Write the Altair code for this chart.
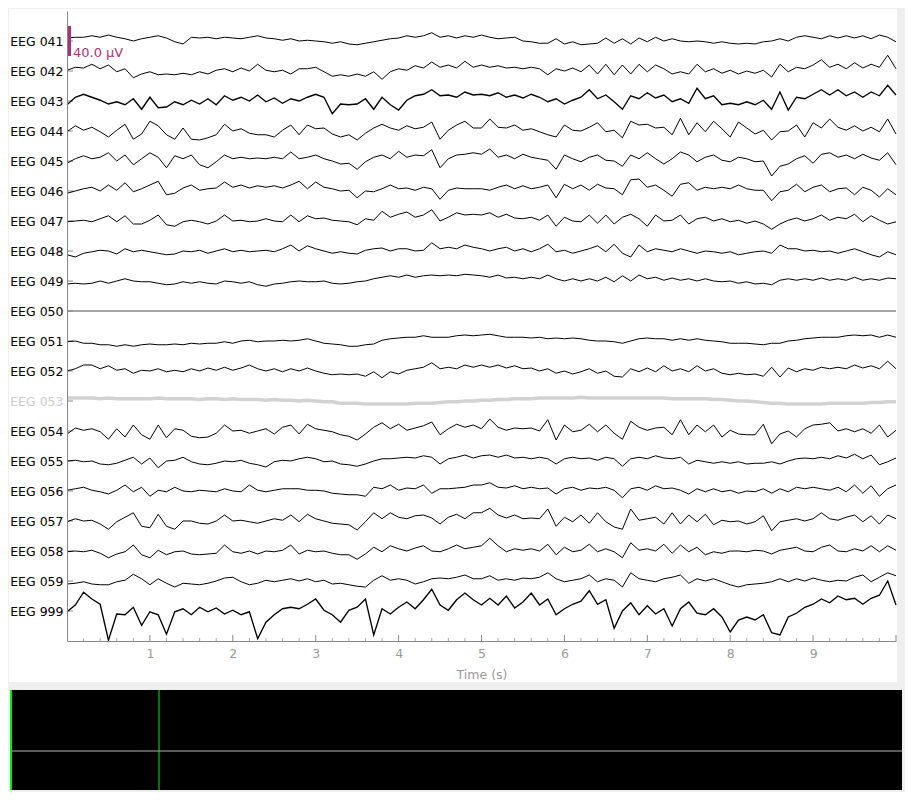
import altair as alt
import pandas as pd

# ---------------- data (values in µV, sampled every 0.1 s) ----------------
TIMES = [round(0.1 * i, 1) for i in range(101)]

CHANNELS = ["EEG 041", "EEG 042", "EEG 043", "EEG 044", "EEG 045", "EEG 046",
            "EEG 047", "EEG 048", "EEG 049", "EEG 050", "EEG 051", "EEG 052",
            "EEG 053", "EEG 054", "EEG 055", "EEG 056", "EEG 057", "EEG 058",
            "EEG 059", "EEG 999"]
BAD_CHANNELS = ["EEG 053"]
FLAT_CHANNELS = ["EEG 050"]
HEAVY_CHANNELS = ["EEG 043", "EEG 999"]
SCALEBAR_UV = 40.0  # one channel spacing

EEG041 = [4, 5, 5, 7, 5, 8, 5, 3, 0, 3,
          5, 7, 4, -1, -4, 5, 4, 5, 3, 5,
          4, 3, 5, 7, 4, 3, 1, 3, 0, 1,
          0, -1, -3, -1, -4, -5, -3, -1, 1, 3,
          4, 7, 5, 7, 11, 5, 7, 4, 7, 5,
          8, 5, 3, 4, 5, 0, -1, -3, -3, 3,
          -4, -1, -5, -4, -3, 4, -3, 3, -4, 4,
          -1, 5, 0, 3, 0, -1, 0, -1, -3, -1,
          -3, -4, -3, -4, -1, 0, 3, 0, 5, 7,
          5, 3, 7, 4, 7, 4, 7, 3, 8, 5,
          -1]
EEG042 = [1, 5, 4, 9, 3, 8, -1, 3, -9, -4,
          -1, -5, -4, -5, -3, -5, -1, -4, 1, 3,
          -1, 4, 0, 9, 1, -1, 1, -4, 3, 3,
          5, -1, -7, -5, -7, -4, -7, -1, -11, -1,
          3, 1, 7, 4, 12, 5, 8, 4, 13, 5,
          8, 5, 7, 4, 5, 3, 5, 3, -5, 3,
          0, 4, -1, 8, -4, 9, -5, 8, -4, 9,
          -1, 8, 3, -4, -1, -4, 9, -1, 3, -3,
          1, -4, 0, -3, 1, -8, 9, -1, 5, 3,
          8, 15, 5, 9, 3, 11, 4, 9, 5, 21,
          3]
EEG043 = [-5, 5, 9, 5, 1, -4, -1, -5, 3, -11,
          5, -9, -8, -1, -5, 1, -4, 3, -5, 7,
          1, 5, 0, 8, -1, 4, -3, 3, 0, 5,
          9, 5, -17, -4, -5, -4, 3, -11, 5, -5,
          -12, 1, 7, 9, 15, 7, 8, 5, 12, 8,
          9, 7, 11, 5, 8, 4, 9, 5, -1, 3,
          -4, 1, 5, 15, 3, 8, -1, -11, 7, 3,
          11, 4, 8, -1, 3, -3, 17, 3, 7, -5,
          -3, -5, -1, -5, 1, -11, 12, -12, 5, 3,
          9, 15, 8, 15, 7, 12, 5, 12, 7, 21,
          8]
EEG044 = [-1, 7, 1, 5, -1, -8, 1, 9, -11, -4,
          13, 7, -5, -11, 4, -11, -12, -9, -5, 9,
          0, 3, -3, -5, -5, -8, 1, 8, -5, 8,
          3, 4, -4, -8, -5, -12, -3, 4, 9, 4,
          1, 7, 3, 5, 12, -11, 1, 8, 13, 4,
          4, 16, 5, 4, 8, 1, 3, -1, -5, -8,
          8, 1, 0, 5, 11, -1, 1, -9, 13, 8,
          9, 4, 5, -5, 17, -5, 11, -1, 13, 3,
          -8, 12, 4, -4, 1, -12, -1, 0, 8, -8,
          11, 4, 16, 5, 1, 7, 0, 5, -1, 16,
          -4]
EEG045 = [-3, 3, 7, 3, 5, 11, 0, 8, -5, 3,
          11, 5, -9, 7, 3, 8, -5, -9, -1, 8,
          3, 5, 3, 4, 3, 5, 3, 12, 3, 5,
          8, 3, 0, -4, -3, -11, -1, 5, 8, 3,
          13, 5, 8, 7, 15, -9, 3, 8, 9, 11,
          9, 16, 5, 8, 3, 9, 5, 3, 1, -11,
          8, 3, -1, 5, 8, 1, 0, -7, 8, 3,
          11, 3, -4, 3, 12, 8, -1, 5, 8, 1,
          -1, 5, 3, -1, 0, -20, -7, -4, 3, 7,
          -3, 9, 11, 5, 8, 3, 9, 4, 1, 11,
          -5]
EEG046 = [-3, 0, 3, 5, 0, 8, 1, 11, -1, 3,
          8, 13, -5, -3, 4, 8, 1, 3, 4, 12,
          5, 8, 4, 7, 5, 7, 4, 8, 13, 3,
          12, 5, 3, 0, 1, -9, 0, -1, 3, 8,
          3, 4, 1, 5, 3, -11, 1, 4, 3, 3,
          3, 1, 5, 8, 3, 7, 3, 5, 8, -9,
          9, 3, 8, 1, 9, 4, 3, -5, 15, 16,
          5, 8, 1, -7, 9, 11, 1, 5, 3, 5,
          3, 8, 3, 1, 1, -13, -1, 1, 9, -1,
          5, 8, -1, 3, 4, -5, 5, 1, -8, 3,
          -5]
EEG047 = [-1, 0, 1, -1, 3, 7, -1, 7, -4, -4,
          1, 8, -5, -7, -1, 1, -1, -4, 0, 8,
          0, 1, -1, 0, 3, 0, -1, 8, -1, 7,
          3, 4, 1, 0, -1, -5, 3, 1, 13, 5,
          9, 12, 5, 8, 15, 0, 5, 11, 8, 9,
          8, 11, 5, 9, 4, 3, 5, 1, 8, -7,
          5, 0, -1, 8, -3, 8, -4, 5, 9, 3,
          -7, 8, 0, 1, 8, -4, 3, 5, 0, 3,
          -1, 1, -3, 0, -4, -11, -4, 1, 4, 0,
          3, 8, 1, 5, 3, 9, -1, 7, 1, -4,
          -1]
EEG048 = [-5, -8, -3, -1, 1, 0, -4, 3, -1, 1,
          -1, -3, -5, -4, 0, -1, 1, -3, 0, 3,
          -1, 1, -1, 0, 1, -1, 3, 8, 0, 7,
          3, 0, -3, -1, -3, -4, 1, 3, 4, 0,
          3, 3, 0, 1, 11, 3, 5, 3, 8, 5,
          3, 0, 3, 5, 0, 3, -1, 3, 9, -1,
          1, -3, 0, 3, 7, -1, 9, -3, -8, 8,
          -1, 3, 1, -1, 3, 0, -3, 0, -1, -3,
          -1, -5, -3, -1, 0, -3, 8, 3, 3, 0,
          1, -1, 0, -3, 0, 3, -1, -5, -8, -1,
          -5]
EEG049 = [-4, -3, -4, -3, 0, -3, 0, 3, 0, -1,
          -1, -3, -5, -4, -1, -3, -1, -3, -4, 0,
          -1, -3, -1, -5, -7, -4, -3, -1, 0, -1,
          -1, 0, -3, -4, -3, -1, 0, 3, 5, 7,
          5, 8, 5, 7, 8, 7, 8, 7, 9, 8,
          7, 5, 8, 4, 5, 3, 5, 3, 8, 3,
          0, 3, 0, 3, 0, 5, -1, 7, 0, 8,
          3, 5, 1, 4, 1, 3, 0, 3, 0, -1,
          0, -3, -1, -4, -3, -5, 1, 3, 1, 3,
          1, 4, 1, 3, 1, 5, 1, 3, 1, 4,
          3]
EEG050_TIMES = [0.0, 10.0]
EEG050 = [0, 0]
EEG051 = [-1, 0, -3, -3, -5, -5, -7, -5, -7, -5,
          -4, -5, -5, -4, -5, -3, -4, -3, -3, -1,
          -3, 0, 1, -1, 0, 0, 1, 0, 1, 3,
          0, -3, -4, -5, -7, -7, -5, -4, 1, 3,
          4, 5, 5, 7, 5, 5, 5, 7, 8, 7,
          8, 9, 7, 5, 5, 5, 4, 5, 3, 4,
          3, 4, 3, 1, 0, 0, -1, -3, 0, 3,
          4, 3, 3, 1, 3, 1, 3, 1, 0, -1,
          -3, -3, -3, -4, -5, -3, -3, 0, 1, 3,
          4, 5, 5, 5, 7, 8, 7, 8, 5, 8,
          5]
EEG052 = [0, 3, 8, 8, 3, 7, 1, 3, -3, 1,
          0, 3, -1, 1, -1, 3, 0, 4, 1, 5,
          1, 4, 8, 3, 0, 3, -1, 3, 0, 4,
          0, -3, -5, -4, -5, -4, -7, -1, -9, -1,
          -4, 1, 3, 5, 11, 3, 5, 3, 8, 5,
          8, 5, 8, 4, 7, 3, 4, 0, 3, -3,
          0, -4, -1, 3, -3, 0, -7, -8, 3, -1,
          4, -1, 7, 0, 3, -1, 7, 0, 3, -3,
          -5, -3, -5, -4, -7, 5, -8, 4, -1, 3,
          1, 5, 3, 5, 3, 8, 4, 7, 3, 13,
          3]
EEG053 = [4, 4, 4, 4, 3, 4, 3, 3, 3, 3,
          3, 4, 3, 3, 3, 3, 2, 3, 3, 2,
          3, 2, 2, 2, 1, 2, 1, 1, 0, 1,
          0, -1, -1, -3, -3, -3, -4, -4, -4, -4,
          -4, -4, -3, -3, -3, -2, -1, -1, 0, 0,
          1, 1, 2, 2, 3, 3, 3, 4, 4, 4,
          4, 4, 5, 4, 4, 4, 4, 4, 4, 4,
          4, 4, 4, 3, 3, 3, 3, 3, 2, 2,
          1, 0, 0, -1, -2, -3, -3, -4, -4, -4,
          -4, -4, -3, -3, -3, -3, -3, -2, -2, -1,
          -1]
EEG054 = [-4, 4, 1, 3, -1, -11, 3, -8, 8, -5,
          -11, 8, -9, 3, 1, -7, -9, -8, -3, 8,
          0, 1, -3, 0, 3, -4, 5, 8, -4, 9,
          3, 1, -1, -5, -7, -12, -4, 5, 11, 3,
          9, 1, 4, 7, 12, -5, 3, 9, 5, 8,
          3, 16, 5, 1, 4, 3, 4, 0, 15, -12,
          8, -1, 1, 9, -1, 8, -3, -11, 13, 5,
          1, 4, 5, -5, 15, -5, 8, -1, 8, -8,
          1, -4, -5, -5, 9, -17, -4, 0, -8, 3,
          8, 9, 11, 0, 3, -1, 3, -3, 8, -8,
          1]
EEG055 = [0, 1, -1, 0, -4, -5, -3, 1, 5, -4,
          4, -9, 0, 1, 5, -1, -4, -5, -3, 0,
          -1, 1, -3, -5, -8, -1, 1, 0, 3, 5,
          3, -1, 0, -4, -5, -7, -4, 0, 3, 3,
          4, 5, 4, 7, 5, -4, 3, 5, 8, 4,
          7, 8, 5, 8, 4, 5, 3, 5, 3, -4,
          3, 5, 3, 4, 1, 5, 3, -7, 3, 5,
          3, 7, 4, 3, 5, -4, 1, -1, -3, -1,
          -3, -1, -4, -3, -3, -1, -4, 0, 3, 4,
          3, 5, 3, 7, 4, 9, 3, 8, -5, -1,
          4]
EEG056 = [1, 3, 5, 1, -1, -4, 1, 8, -1, 5,
          -7, 1, -1, 5, 0, -1, 1, 0, -1, 3,
          0, -1, 8, 1, -1, 1, 3, 3, 3, 1,
          1, 0, -3, -4, -5, -5, -7, 5, 3, 8,
          1, 4, 3, 8, -3, 3, 3, 4, 5, 8,
          8, 11, 5, 4, 7, 3, 5, 3, 4, -4,
          3, 5, 1, 4, 3, 5, 1, -9, 3, 5,
          1, 7, 3, 4, 1, -4, 3, -1, 3, -1,
          1, -3, 0, -1, 3, -3, 3, -1, 5, 3,
          5, 3, 1, 5, -1, 8, -3, 7, -7, 3,
          8]
EEG057 = [-1, 3, 0, 1, -4, -11, -1, 5, 11, -7,
          -9, 9, -7, -11, 0, 0, -3, -4, 0, 8,
          0, 1, -1, -3, 0, 3, 1, 8, -1, 9,
          3, 0, -3, -4, -5, -12, -1, 11, 3, 11,
          5, 3, 7, 8, 4, -4, 5, 9, 3, 11,
          11, 17, 8, 4, 8, 3, 4, 3, 16, -7,
          5, -1, 8, -3, 11, -1, -8, -11, 16, 1,
          3, 5, -4, 11, -4, 8, -1, 9, -5, 1,
          -1, 0, -4, -1, 7, -13, -1, 1, 3, 0,
          3, 11, 3, 1, 5, 8, -1, 7, -4, 8,
          3]
EEG058 = [-1, 0, -1, 1, -3, -9, -4, -1, 8, -5,
          -9, 1, -5, -1, 0, -4, -5, -4, -3, 8,
          -1, -3, 0, -4, 0, -1, 1, 8, -4, 1,
          -1, 0, -3, -5, -5, -11, -4, 5, -1, 7,
          3, 0, 4, 7, 0, -1, 3, 8, 3, 5,
          7, 17, 7, -1, 3, 1, 3, 0, 9, -5,
          5, -1, 1, 9, -1, 3, -1, -9, 11, 1,
          3, 0, 9, -3, 8, -1, 5, -5, -1, -3,
          0, 0, -1, 1, 0, -4, 1, 3, 5, 0,
          -1, 5, 8, 0, -1, 3, 0, 7, -1, 7,
          1]
EEG059 = [-4, -3, -1, -4, -5, -5, -1, 1, 9, 3,
          -5, 3, -3, -8, -3, -4, -5, -3, 0, 4,
          5, -1, -5, -3, 1, -1, 1, 3, 0, 3,
          -1, 1, -4, -3, -5, -7, -8, 1, 7, 1,
          3, 1, -4, -1, 3, 4, 3, 5, 8, 3,
          3, 7, 1, 3, 1, 4, 3, 5, 11, 3,
          -1, 1, 3, 8, -1, 3, 1, -8, 11, 3,
          1, -1, 3, 5, 8, -3, 3, 0, 3, -1,
          -5, -8, -5, -4, -3, -1, 3, -1, 3, 0,
          4, 1, -1, 1, 0, 5, 8, -1, 5, 11,
          7]
EEG999 = [-1, 8, 25, 16, 9, -39, -4, -5, 5, -19,
          -1, -5, -31, -1, 3, -5, 5, -1, 4, -4,
          1, -5, -1, -37, -15, -5, 3, 5, 3, 9,
          16, 1, -5, -15, 1, 5, 16, -32, 3, -4,
          5, 12, 3, 15, 29, 8, 1, 15, 24, 15,
          8, 17, 8, 20, 4, 12, 24, 8, 16, -5,
          3, 9, 13, 27, 9, 15, -23, 0, 11, -5,
          7, -4, 3, -20, 3, 12, -3, -5, 3, -8,
          -28, -12, -8, -12, -5, -29, -32, -8, -3, 5,
          9, 16, 11, 20, 15, 17, 9, 17, 21, 40,
          8]

SIGNALS = {
    "EEG 041": EEG041, "EEG 042": EEG042, "EEG 043": EEG043, "EEG 044": EEG044,
    "EEG 045": EEG045, "EEG 046": EEG046, "EEG 047": EEG047, "EEG 048": EEG048,
    "EEG 049": EEG049, "EEG 050": EEG050, "EEG 051": EEG051, "EEG 052": EEG052,
    "EEG 053": EEG053, "EEG 054": EEG054, "EEG 055": EEG055, "EEG 056": EEG056,
    "EEG 057": EEG057, "EEG 058": EEG058, "EEG 059": EEG059, "EEG 999": EEG999,
}

X_LABELS = [1, 2, 3, 4, 5, 6, 7, 8, 9]
MAJOR_TICKS = [1, 2, 3, 4, 5, 6, 7, 8, 9, 10]
MINOR_TICKS = [round(0.2 * i, 1) for i in range(1, 50) if i % 5 != 0]

# ---------------- tables ----------------
recs = []
for i, ch in enumerate(CHANNELS):
    ts = EEG050_TIMES if ch == "EEG 050" else TIMES
    if ch in BAD_CHANNELS:
        col, sw = "#d2d2d2", 3.5
    elif ch in FLAT_CHANNELS:
        col, sw = "#8a8a8a", 1.5
    elif ch in HEAVY_CHANNELS:
        col, sw = "#000000", 1.35
    else:
        col, sw = "#000000", 1.0
    for t, v in zip(ts, SIGNALS[ch]):
        recs.append({"t": t, "ch": ch, "pos": i + 1 - v / SCALEBAR_UV,
                     "col": col, "sw": sw})
traces_df = pd.DataFrame(recs)

ytick_df = pd.DataFrame({"pos": list(range(1, len(CHANNELS) + 1))})
major_df = pd.DataFrame({"t": MAJOR_TICKS})
minor_df = pd.DataFrame({"t": MINOR_TICKS})
bar_df = pd.DataFrame({"pos": [1 - SCALEBAR_UV / 2 / SCALEBAR_UV],
                       "pos_end": [1 + SCALEBAR_UV / 2 / SCALEBAR_UV],
                       "label": [f"{SCALEBAR_UV:.1f} µV"]})
dummy = pd.DataFrame({"k": [0]})

XS = alt.Scale(domain=[0, 10], nice=False, zero=False)
YS = alt.Scale(domain=[0, len(CHANNELS) + 1], reverse=True, nice=False, zero=False)

label_expr = "[" + ",".join(f"'{c}'" for c in CHANNELS) + "][datum.value - 1]"
bad_idx = CHANNELS.index(BAD_CHANNELS[0]) + 1

W, H = 829, 630
GRAY = "#888888"

X_AXIS = alt.Axis(values=X_LABELS, format="d", grid=False, ticks=False,
                  tickSize=0, labelPadding=6, labelColor="#9a9a9a",
                  labelFontSize=12.5, labelFont="DejaVu Sans",
                  titleColor="#9a9a9a", titleFontSize=12.5,
                  titleFont="DejaVu Sans", titleFontWeight="normal",
                  titlePadding=9, domainColor=GRAY, labelFlush=False, zindex=1)
Y_AXIS = alt.Axis(values=list(range(1, len(CHANNELS) + 1)),
                  labelExpr=label_expr, grid=False, ticks=False,
                  tickSize=0, labelPadding=4, labelFontSize=12.5,
                  labelFont="DejaVu Sans",
                  labelColor=alt.condition(f"datum.value == {bad_idx}",
                                           alt.value("#cccccc"),
                                           alt.value("#000000")),
                  domainColor=GRAY, zindex=1)


def X(field):
    return alt.X(field, scale=XS, title="Time (s)", axis=X_AXIS)


def Y(field):
    return alt.Y(field, scale=YS, title=None, axis=Y_AXIS)


panel = alt.Chart(dummy).mark_rect(color="white").encode(
    x=alt.value(-58), x2=alt.value(W + 1), y=alt.value(-2), y2=alt.value(H + 41))
overview = alt.Chart(dummy).mark_rect(color="black").encode(
    x=alt.value(-57), x2=alt.value(W + 6), y=alt.value(H + 49), y2=alt.value(H + 149))
ov_line = alt.Chart(dummy).mark_rule(color="#b4b4b4", strokeWidth=1).encode(
    x=alt.value(-57), x2=alt.value(W + 6), y=alt.value(H + 110))
ov_green1 = alt.Chart(dummy).mark_rule(color="#00ee00", strokeWidth=2).encode(
    x=alt.value(-56), y=alt.value(H + 49), y2=alt.value(H + 149))
ov_green2 = alt.Chart(dummy).mark_rule(color="#00ee00", strokeWidth=1).encode(
    x=alt.value(92), y=alt.value(H + 49), y2=alt.value(H + 149))

yticks = alt.Chart(ytick_df).mark_rule(color=GRAY, strokeWidth=1).encode(
    x=alt.value(0), x2=alt.value(6), y=Y("pos:Q"))
major = alt.Chart(major_df).mark_rule(color=GRAY, strokeWidth=1).encode(
    x=X("t:Q"), y=alt.value(H - 6), y2=alt.value(H))
minor = alt.Chart(minor_df).mark_rule(color="#a8a8a8", strokeWidth=1).encode(
    x=X("t:Q"), y=alt.value(H - 3), y2=alt.value(H))

traces = alt.Chart(traces_df).mark_line(interpolate="linear").encode(
    x=X("t:Q"),
    y=Y("pos:Q"),
    color=alt.Color("col:N", scale=None),
    strokeWidth=alt.StrokeWidth("sw:Q", scale=None),
    detail="ch:N",
)

scalebar = alt.Chart(bar_df).mark_rule(color="#aa3377", strokeWidth=3).encode(
    x=alt.value(2.5), y=Y("pos:Q"), y2="pos_end:Q")
scaletext = alt.Chart(bar_df).mark_text(
    align="left", baseline="alphabetic", fontSize=13, font="DejaVu Sans",
    color="#aa3377", dy=1).encode(
    x=alt.value(6), y=Y("pos_end:Q"), text="label:N")

chart = alt.layer(
    panel, overview, ov_line, ov_green1, ov_green2,
    yticks, major, minor, traces, scalebar, scaletext,
).properties(
    width=W, height=H,
    autosize=alt.AutoSizeParams(type="none"),
    padding={"left": 59, "top": 3, "right": 9, "bottom": 151},
    background="#efefef",
).configure_view(stroke=None)

chart.save("out.html", embed_options={"renderer": "svg", "actions": False})
